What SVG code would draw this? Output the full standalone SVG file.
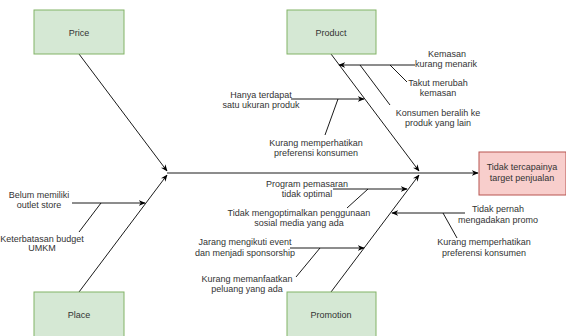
<svg xmlns="http://www.w3.org/2000/svg" width="566" height="336" viewBox="0 0 566 336">
<defs>
<style>
.cat{fill:#d5e8d4;stroke:#82b366;stroke-width:1}
.eff{fill:#f8cecc;stroke:#b85450;stroke-width:1}
text{font-family:"Liberation Sans",Arial,sans-serif;font-size:9px;fill:#333;text-anchor:middle}
.ln{stroke:#000;stroke-width:0.9;fill:none}
.ar{stroke:#000;stroke-width:0.9;fill:none;marker-end:url(#ah)}
</style>
<marker id="ah" viewBox="0 0 10 10" refX="9" refY="5" markerWidth="7" markerHeight="7" markerUnits="userSpaceOnUse" orient="auto">
<path d="M0,1 L10,5 L0,9 L3,5 Z" fill="#000"/>
</marker>
</defs>
<rect width="566" height="336" fill="#fff"/>
<g id="connectors">
<line class="ar" x1="167" y1="173" x2="478" y2="173"/>
<line class="ar" x1="79" y1="54" x2="167" y2="171"/>
<line class="ar" x1="79" y1="292" x2="167" y2="175"/>
<line class="ar" x1="331" y1="54" x2="419" y2="171"/>
<line class="ar" x1="331" y1="292" x2="419" y2="175"/>
<line class="ar" x1="415" y1="65" x2="339" y2="65"/>
<line class="ln" x1="390" y1="65" x2="407" y2="82"/>
<line class="ln" x1="360" y1="65" x2="390" y2="105"/>
<line class="ar" x1="291" y1="99" x2="364" y2="99"/>
<line class="ln" x1="338" y1="99" x2="325" y2="135"/>
<line class="ar" x1="72" y1="203" x2="145" y2="203"/>
<line class="ln" x1="101" y1="203" x2="79" y2="232"/>
<line class="ar" x1="333" y1="189" x2="407" y2="189"/>
<line class="ln" x1="368" y1="189" x2="347" y2="208"/>
<line class="ar" x1="290" y1="248" x2="364" y2="248"/>
<line class="ln" x1="320" y1="248" x2="296" y2="277"/>
<line class="ar" x1="465" y1="213" x2="392" y2="213"/>
<line class="ln" x1="443" y1="213" x2="457" y2="238"/>
</g>
<g id="price"><rect class="cat" x="34" y="10" width="90" height="44"/><text x="79" y="36">Price</text></g>
<g id="product"><rect class="cat" x="287" y="10" width="89" height="44"/><text x="331" y="36">Product</text></g>
<g id="place"><rect class="cat" x="34" y="292" width="90" height="50"/><text x="79" y="318">Place</text></g>
<g id="promotion"><rect class="cat" x="287" y="292" width="89" height="50"/><text x="331" y="318">Promotion</text></g>
<g id="effect"><rect class="eff" x="479" y="152" width="87" height="43"/><text x="522" y="170">Tidak tercapainya</text><text x="522" y="181">target penjualan</text></g>
<g id="c1"><text x="447" y="57">Kemasan</text><text x="446" y="67">kurang menarik</text></g>
<g id="c2"><text x="438" y="86">Takut merubah</text><text x="438" y="96">kemasan</text></g>
<g id="c3"><text x="438" y="116">Konsumen beralih ke</text><text x="438" y="126">produk yang lain</text></g>
<g id="c4"><text x="261" y="98">Hanya terdapat</text><text x="261" y="108">satu ukuran produk</text></g>
<g id="c5"><text x="316" y="146">Kurang memperhatikan</text><text x="316" y="156">preferensi konsumen</text></g>
<g id="c6"><text x="39" y="198">Belum memiliki</text><text x="39" y="208">outlet store</text></g>
<g id="c7"><text x="42" y="242">Keterbatasan budget</text><text x="42" y="251">UMKM</text></g>
<g id="c8"><text x="307" y="187">Program pemasaran</text><text x="307" y="197">tidak optimal</text></g>
<g id="c9"><text x="299" y="216">Tidak mengoptimalkan penggunaan</text><text x="299" y="226">sosial media yang ada</text></g>
<g id="c10"><text x="245" y="245">Jarang mengikuti event</text><text x="245" y="256">dan menjadi sponsorship</text></g>
<g id="c11"><text x="247" y="282">Kurang memanfaatkan</text><text x="247" y="292">peluang yang ada</text></g>
<g id="c12"><text x="498" y="212">Tidak pernah</text><text x="498" y="223">mengadakan promo</text></g>
<g id="c13"><text x="484" y="245">Kurang memperhatikan</text><text x="484" y="256">preferensi konsumen</text></g>
</svg>
